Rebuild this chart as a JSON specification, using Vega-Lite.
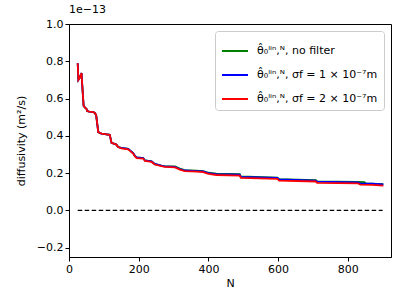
{
  "$schema": "https://vega.github.io/schema/vega-lite/v6.json",
  "width": 322,
  "height": 233,
  "autosize": "none",
  "padding": {"left": 69, "top": 24, "right": 16, "bottom": 47},
  "background": "white",
  "config": {
    "font": "DejaVu Sans",
    "view": {"stroke": "black", "strokeWidth": 1},
    "axis": {
      "grid": false,
      "domainColor": "black",
      "tickColor": "black",
      "labelColor": "black",
      "titleColor": "black",
      "labelFontSize": 11,
      "titleFontSize": 11,
      "titleFontWeight": "normal",
      "tickSize": 4,
      "labelPadding": 2,
      "labelOverlap": false,
      "labelFlush": false
    }
  },
  "title": {"text": "1e−13", "anchor": "start", "fontSize": 11, "fontWeight": "normal", "offset": 3, "frame": "group", "color": "black"},
  "layer": [
    {
      "data": {"values": [{"N": 25, "N2": 900, "v": 0}]},
      "mark": {"type": "rule", "strokeDash": [4.5, 2.5], "color": "black", "strokeWidth": 1.3},
      "encoding": {
        "x": {"field": "N", "type": "quantitative", "scale": {"domain": [0, 924], "nice": false, "zero": false}, "axis": {"values": [0, 200, 400, 600, 800], "format": "d", "title": "N", "titlePadding": 3, "labelOverlap": false}},
        "x2": {"field": "N2"},
        "y": {"field": "v", "type": "quantitative", "scale": {"domain": [-0.25, 1.0], "nice": false, "zero": false}, "axis": {"values": [-0.2, 0, 0.2, 0.4, 0.6, 0.8, 1.0], "format": ".1f", "title": "diffusivity (m²/s)", "titlePadding": 10, "labelOverlap": false, "tickCount": 7}}
      }
    },
    {
      "data": {"values": [
        {"series": "a", "N": 25, "v": 0.789}, {"series": "a", "N": 27, "v": 0.700}, {"series": "a", "N": 31, "v": 0.712}, {"series": "a", "N": 36, "v": 0.737}, {"series": "a", "N": 37, "v": 0.700}, {"series": "a", "N": 42, "v": 0.560}, {"series": "a", "N": 46, "v": 0.551}, {"series": "a", "N": 50, "v": 0.545}, {"series": "a", "N": 52, "v": 0.533}, {"series": "a", "N": 58, "v": 0.530}, {"series": "a", "N": 66, "v": 0.528}, {"series": "a", "N": 74, "v": 0.524}, {"series": "a", "N": 78, "v": 0.510}, {"series": "a", "N": 84, "v": 0.420}, {"series": "a", "N": 93, "v": 0.412}, {"series": "a", "N": 117, "v": 0.405}, {"series": "a", "N": 122, "v": 0.362}, {"series": "a", "N": 136, "v": 0.353}, {"series": "a", "N": 141, "v": 0.340}, {"series": "a", "N": 150, "v": 0.335}, {"series": "a", "N": 170, "v": 0.330}, {"series": "a", "N": 175, "v": 0.322}, {"series": "a", "N": 184, "v": 0.308}, {"series": "a", "N": 189, "v": 0.293}, {"series": "a", "N": 194, "v": 0.284}, {"series": "a", "N": 213, "v": 0.281}, {"series": "a", "N": 218, "v": 0.268}, {"series": "a", "N": 237, "v": 0.263}, {"series": "a", "N": 246, "v": 0.249}, {"series": "a", "N": 265, "v": 0.240}, {"series": "a", "N": 275, "v": 0.236}, {"series": "a", "N": 304, "v": 0.236}, {"series": "a", "N": 318, "v": 0.224}, {"series": "a", "N": 332, "v": 0.216}, {"series": "a", "N": 366, "v": 0.213}, {"series": "a", "N": 385, "v": 0.211}, {"series": "a", "N": 400, "v": 0.202}, {"series": "a", "N": 423, "v": 0.197}, {"series": "a", "N": 490, "v": 0.194}, {"series": "a", "N": 493, "v": 0.182}, {"series": "a", "N": 598, "v": 0.176}, {"series": "a", "N": 603, "v": 0.168}, {"series": "a", "N": 708, "v": 0.162}, {"series": "a", "N": 712, "v": 0.156}, {"series": "a", "N": 830, "v": 0.153}, {"series": "a", "N": 848, "v": 0.151}, {"series": "a", "N": 852, "v": 0.145}, {"series": "a", "N": 902, "v": 0.141},
        {"series": "b", "N": 25, "v": 0.789}, {"series": "b", "N": 27, "v": 0.700}, {"series": "b", "N": 31, "v": 0.712}, {"series": "b", "N": 36, "v": 0.737}, {"series": "b", "N": 37, "v": 0.700}, {"series": "b", "N": 42, "v": 0.560}, {"series": "b", "N": 46, "v": 0.551}, {"series": "b", "N": 50, "v": 0.545}, {"series": "b", "N": 52, "v": 0.533}, {"series": "b", "N": 58, "v": 0.530}, {"series": "b", "N": 66, "v": 0.528}, {"series": "b", "N": 74, "v": 0.524}, {"series": "b", "N": 78, "v": 0.510}, {"series": "b", "N": 84, "v": 0.420}, {"series": "b", "N": 93, "v": 0.412}, {"series": "b", "N": 117, "v": 0.405}, {"series": "b", "N": 122, "v": 0.362}, {"series": "b", "N": 136, "v": 0.353}, {"series": "b", "N": 141, "v": 0.340}, {"series": "b", "N": 150, "v": 0.335}, {"series": "b", "N": 170, "v": 0.330}, {"series": "b", "N": 175, "v": 0.322}, {"series": "b", "N": 184, "v": 0.308}, {"series": "b", "N": 189, "v": 0.293}, {"series": "b", "N": 194, "v": 0.284}, {"series": "b", "N": 213, "v": 0.281}, {"series": "b", "N": 218, "v": 0.268}, {"series": "b", "N": 237, "v": 0.263}, {"series": "b", "N": 246, "v": 0.249}, {"series": "b", "N": 265, "v": 0.240}, {"series": "b", "N": 275, "v": 0.236}, {"series": "b", "N": 304, "v": 0.234}, {"series": "b", "N": 318, "v": 0.222}, {"series": "b", "N": 332, "v": 0.214}, {"series": "b", "N": 366, "v": 0.211}, {"series": "b", "N": 385, "v": 0.209}, {"series": "b", "N": 400, "v": 0.200}, {"series": "b", "N": 423, "v": 0.195}, {"series": "b", "N": 490, "v": 0.192}, {"series": "b", "N": 493, "v": 0.180}, {"series": "b", "N": 598, "v": 0.174}, {"series": "b", "N": 603, "v": 0.166}, {"series": "b", "N": 708, "v": 0.160}, {"series": "b", "N": 712, "v": 0.154}, {"series": "b", "N": 830, "v": 0.150}, {"series": "b", "N": 836, "v": 0.144}, {"series": "b", "N": 870, "v": 0.143}, {"series": "b", "N": 902, "v": 0.139},
        {"series": "c", "N": 25, "v": 0.789}, {"series": "c", "N": 27, "v": 0.700}, {"series": "c", "N": 31, "v": 0.712}, {"series": "c", "N": 36, "v": 0.737}, {"series": "c", "N": 37, "v": 0.700}, {"series": "c", "N": 42, "v": 0.560}, {"series": "c", "N": 46, "v": 0.551}, {"series": "c", "N": 50, "v": 0.545}, {"series": "c", "N": 52, "v": 0.533}, {"series": "c", "N": 58, "v": 0.530}, {"series": "c", "N": 66, "v": 0.528}, {"series": "c", "N": 74, "v": 0.524}, {"series": "c", "N": 78, "v": 0.510}, {"series": "c", "N": 84, "v": 0.420}, {"series": "c", "N": 93, "v": 0.412}, {"series": "c", "N": 117, "v": 0.405}, {"series": "c", "N": 122, "v": 0.362}, {"series": "c", "N": 136, "v": 0.353}, {"series": "c", "N": 141, "v": 0.340}, {"series": "c", "N": 150, "v": 0.333}, {"series": "c", "N": 170, "v": 0.327}, {"series": "c", "N": 175, "v": 0.319}, {"series": "c", "N": 184, "v": 0.305}, {"series": "c", "N": 189, "v": 0.290}, {"series": "c", "N": 194, "v": 0.281}, {"series": "c", "N": 213, "v": 0.278}, {"series": "c", "N": 218, "v": 0.265}, {"series": "c", "N": 237, "v": 0.260}, {"series": "c", "N": 246, "v": 0.246}, {"series": "c", "N": 265, "v": 0.237}, {"series": "c", "N": 275, "v": 0.233}, {"series": "c", "N": 304, "v": 0.231}, {"series": "c", "N": 318, "v": 0.219}, {"series": "c", "N": 332, "v": 0.211}, {"series": "c", "N": 366, "v": 0.208}, {"series": "c", "N": 385, "v": 0.205}, {"series": "c", "N": 400, "v": 0.196}, {"series": "c", "N": 423, "v": 0.190}, {"series": "c", "N": 490, "v": 0.187}, {"series": "c", "N": 493, "v": 0.175}, {"series": "c", "N": 598, "v": 0.169}, {"series": "c", "N": 603, "v": 0.160}, {"series": "c", "N": 708, "v": 0.155}, {"series": "c", "N": 712, "v": 0.148}, {"series": "c", "N": 830, "v": 0.145}, {"series": "c", "N": 836, "v": 0.138}, {"series": "c", "N": 870, "v": 0.137}, {"series": "c", "N": 902, "v": 0.133}
      ]},
      "mark": {"type": "line", "strokeWidth": 1.8},
      "encoding": {
        "x": {"field": "N", "type": "quantitative"},
        "y": {"field": "v", "type": "quantitative"},
        "color": {
          "field": "series",
          "type": "nominal",
          "scale": {"domain": ["a", "b", "c"], "range": ["#008000", "#0000ff", "#ff0000"]},
          "legend": {
            "title": null,
            "orient": "top-right",
            "offset": 7,
            "padding": 6,
            "strokeColor": "#cccccc",
            "fillColor": "rgba(255,255,255,0.8)",
            "cornerRadius": 3,
            "symbolType": "stroke",
            "symbolSize": 676,
            "symbolStrokeWidth": 2,
            "labelFontSize": 11,
            "labelColor": "black",
            "labelLimit": 300,
            "labelOffset": 8,
            "rowPadding": 5,
            "labelExpr": "datum.label == 'a' ? 'θ̂₀ˡⁱⁿ,ᴺ, no filter' : datum.label == 'b' ? 'θ̂₀ˡⁱⁿ,ᴺ, σf = 1 × 10⁻⁷m' : 'θ̂₀ˡⁱⁿ,ᴺ, σf = 2 × 10⁻⁷m'"
          }
        }
      }
    }
  ]
}
